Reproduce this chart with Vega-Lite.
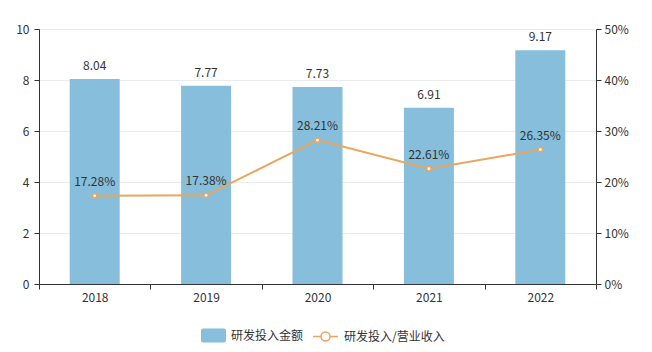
{
  "$schema": "https://vega.github.io/schema/vega-lite/v6.json",
  "width": 557,
  "height": 255,
  "autosize": {"type": "none"},
  "padding": {"left": 39, "top": 29, "right": 56, "bottom": 68},
  "background": "white",
  "config": {
    "font": "Noto Sans CJK SC",
    "view": {"stroke": null},
    "axis": {
      "domainColor": "#333333",
      "tickColor": "#333333",
      "labelColor": "#333333",
      "labelFontSize": 12,
      "tickSize": 5,
      "title": null
    },
    "legend": {
      "orient": "none",
      "direction": "horizontal",
      "title": null,
      "padding": 0,
      "labelFontSize": 12,
      "labelColor": "#333333",
      "symbolSize": 625,
      "labelOffset": 5,
      "symbolOpacity": 1
    }
  },
  "data": {
    "values": [
      {"year": "2018", "amount": 8.04, "ratio": 0.1728},
      {"year": "2019", "amount": 7.77, "ratio": 0.1738},
      {"year": "2020", "amount": 7.73, "ratio": 0.2821},
      {"year": "2021", "amount": 6.91, "ratio": 0.2261},
      {"year": "2022", "amount": 9.17, "ratio": 0.2635}
    ]
  },
  "encoding": {
    "x": {
      "field": "year",
      "type": "ordinal",
      "scale": {"paddingInner": 0, "paddingOuter": 0},
      "axis": {"labelAngle": 0, "tickBand": "extent", "labelPadding": 3, "grid": false}
    }
  },
  "layer": [
    {
      "encoding": {
        "y": {
          "field": "amount",
          "type": "quantitative",
          "scale": {"domain": [0, 10]},
          "axis": {"orient": "left", "values": [0, 2, 4, 6, 8, 10], "grid": true, "gridColor": "#ebebeb", "labelPadding": 5}
        }
      },
      "layer": [
        {
          "mark": {"type": "bar", "size": 50},
          "encoding": {
            "fill": {
              "datum": "研发投入金额",
              "type": "nominal",
              "scale": {"domain": ["研发投入金额"], "range": ["#86bedb"]},
              "legend": {
                "legendX": 162,
                "legendY": 294,
                "symbolType": "M-0.84,-0.56H0.84A0.16,0.16 0 0 1 1,-0.4V0.4A0.16,0.16 0 0 1 0.84,0.56H-0.84A0.16,0.16 0 0 1 -1,0.4V-0.4A0.16,0.16 0 0 1 -0.84,-0.56Z",
                "symbolStrokeWidth": 0
              }
            }
          }
        },
        {
          "mark": {"type": "text", "baseline": "bottom", "dy": -6, "fontSize": 12, "color": "#333333"},
          "encoding": {"text": {"field": "amount", "type": "quantitative", "format": ".2f"}}
        }
      ]
    },
    {
      "encoding": {
        "y": {
          "field": "ratio",
          "type": "quantitative",
          "scale": {"domain": [0, 0.5]},
          "axis": {"orient": "right", "values": [0, 0.1, 0.2, 0.3, 0.4, 0.5], "format": ".0%", "grid": false, "labelPadding": 3}
        }
      },
      "layer": [
        {
          "mark": {"type": "line", "strokeWidth": 2},
          "encoding": {
            "stroke": {
              "datum": "研发投入/营业收入",
              "type": "nominal",
              "scale": {"domain": ["研发投入/营业收入"], "range": ["#e9a660"]},
              "legend": {
                "legendX": 273,
                "legendY": 294,
                "symbolType": "M-1,0H-0.36M0.36,0H1M0.36,0A0.36,0.36 0 1 1 -0.36,0A0.36,0.36 0 1 1 0.36,0",
                "symbolFillColor": "#ffffff",
                "symbolStrokeWidth": 1.5
              }
            }
          }
        },
        {
          "mark": {"type": "point", "filled": true, "fill": "#ffffff", "stroke": "#e9a660", "strokeWidth": 1.5, "size": 20, "opacity": 1}
        },
        {
          "mark": {"type": "text", "baseline": "bottom", "dy": -7, "fontSize": 12, "color": "#333333"},
          "encoding": {"text": {"field": "ratio", "type": "quantitative", "format": ".2%"}}
        }
      ]
    }
  ],
  "resolve": {"scale": {"y": "independent"}}
}
